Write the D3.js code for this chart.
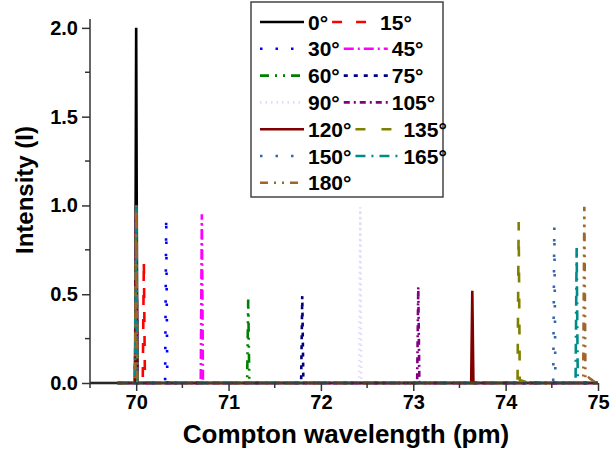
<!DOCTYPE html>
<html>
<head>
<meta charset="utf-8">
<script src="https://cdn.jsdelivr.net/npm/d3@7"></script>
<style>
  body { margin: 0; background: #fff; }
  svg { font-family: Arial, "Liberation Sans", sans-serif; font-weight: bold; }
</style>
</head>
<body>
<div id="chart"></div>
<script>
// scattering angles (legend labels)
var angles = ["0°", "15°", "30°", "45°", "60°", "75°", "90°", "105°", "120°", "135°", "150°", "165°", "180°"];
// shifted (Compton) peak position, pm
var shiftedPos = [70.0, 70.083, 70.325, 70.711, 71.213, 71.798, 72.426, 73.054, 73.639, 74.141, 74.527, 74.769, 74.852];
// shifted peak height
var shiftedHeight = [1.0, 0.69, 0.93, 0.95, 0.47, 0.49, 0.99, 0.54, 0.52, 0.89, 0.88, 0.76, 0.98];
// unshifted peak at 70 pm
var unshiftedPos = 70.0;
var unshiftedHeight = [1.0, 1.0, 1.0, 1.0, 1.0, 1.0, 1.0, 1.0, 1.0, 1.0, 1.0, 1.0, 1.0];
// small low bumps near the baseline (centre, height, half width), 0 = none
var bumpPos = [0, 0, 0, 0, 0, 0, 0, 0, 0, 74.15, 0, 0, 74.9];
var bumpHeight = [0, 0, 0, 0, 0, 0, 0, 0, 0, 0.018, 0, 0, 0.03];
var bumpHalf = [0, 0, 0, 0, 0, 0, 0, 0, 0, 0.1, 0, 0, 0.08];
// where each trace starts
var traceStart = [69.5, 69.8, 69.8, 69.8, 69.8, 69.8, 69.8, 69.8, 69.8, 69.8, 69.8, 69.8, 69.8];
var traceEnd = 75.0;

var colors = ["#000000", "#ff0000", "#0000ff", "#ff00ff", "#008000", "#000080", "#e6d9ff",
              "#800080", "#800000", "#808000", "#3366aa", "#008b8b", "#a0652a"];
var dashes = ["none", "10,14", "2.5,13", "10,4,2,4", "9,6,2,6,2,6", "4,6", "1.5,4",
              "6,4,2,4", "none", "10,16", "2.5,13", "10,6,2,6", "8,6,2,6,2,6"];

var xTicks = [70, 71, 72, 73, 74, 75];
var yTicks = [0.0, 0.5, 1.0, 1.5, 2.0];

var W = 611, H = 452;
var margin = {left: 90, right: 13, top: 19, bottom: 69};
var halfWidth = 0.012; // spike half width

var svg = d3.select("#chart").append("svg")
    .attr("width", W)
    .attr("height", H);

var x = d3.scaleLinear().domain([69.5, 75]).range([margin.left, W - margin.right]);
var y = d3.scaleLinear().domain([0, 2.05]).range([H - margin.bottom, margin.top]);

// build each trace from its spikes and bumps (triangles summed at their vertices)
function traceFor(i) {
    var tri = [[unshiftedPos, unshiftedHeight[i], halfWidth], [shiftedPos[i], shiftedHeight[i], halfWidth]];
    if (bumpHeight[i] > 0) tri.push([bumpPos[i], bumpHeight[i], bumpHalf[i]]);
    var xs = [traceStart[i], traceEnd];
    tri.forEach(function(t) { xs.push(t[0] - t[2], t[0], t[0] + t[2]); });
    xs = xs.filter(function(v) { return v >= traceStart[i] && v <= traceEnd; });
    xs = Array.from(new Set(xs.map(function(v) { return +v.toFixed(4); }))).sort(d3.ascending);
    return xs.map(function(v) {
        var s = 0;
        tri.forEach(function(t) { s += t[1] * Math.max(0, 1 - Math.abs(v - t[0]) / t[2]); });
        return [v, s];
    });
}

var line = d3.line()
    .x(function(d) { return x(d[0]); })
    .y(function(d) { return y(d[1]); });

var traces = svg.append("g").attr("class", "traces");
angles.forEach(function(a, i) {
    traces.append("path")
        .datum(traceFor(i))
        .attr("d", line)
        .attr("fill", "none")
        .attr("stroke", colors[i])
        .attr("stroke-width", 2.6)
        .attr("stroke-dasharray", dashes[i])
        .attr("stroke-linejoin", "miter");
});

// axes
var axisColor = "#333";
var xAxis = d3.axisBottom(x).tickValues(xTicks).tickSize(8).tickPadding(4).tickFormat(d3.format("d"));
var yAxis = d3.axisLeft(y).tickValues(yTicks).tickSize(8).tickPadding(4).tickFormat(d3.format(".1f"));

var gx = svg.append("g")
    .attr("transform", "translate(0," + (H - margin.bottom) + ")")
    .call(xAxis);
gx.selectAll(".tick line").attr("stroke", axisColor).attr("stroke-width", 1.5);
var gy = svg.append("g")
    .attr("transform", "translate(" + margin.left + ",0)")
    .call(yAxis);
gy.selectAll(".tick line").attr("stroke", axisColor).attr("stroke-width", 1.5);

[gx, gy].forEach(function(g) {
    g.select(".domain").remove();
    g.selectAll("text").attr("font-size", 20).attr("font-weight", "bold").attr("fill", "#000")
        .attr("font-family", "Arial, 'Liberation Sans', sans-serif");
});

// minor ticks
var xMinor = d3.range(69.5, 75.01, 0.5).filter(function(v) { return xTicks.indexOf(+v.toFixed(1)) < 0; });
svg.append("g").selectAll("line").data(xMinor).enter().append("line")
    .attr("x1", function(d) { return x(d); }).attr("x2", function(d) { return x(d); })
    .attr("y1", H - margin.bottom).attr("y2", H - margin.bottom + 5)
    .attr("stroke", axisColor).attr("stroke-width", 1.5);
var yMinor = [0.25, 0.75, 1.25, 1.75];
svg.append("g").selectAll("line").data(yMinor).enter().append("line")
    .attr("y1", function(d) { return y(d); }).attr("y2", function(d) { return y(d); })
    .attr("x1", margin.left).attr("x2", margin.left - 5)
    .attr("stroke", axisColor).attr("stroke-width", 1.5);

// axis lines
svg.append("line")
    .attr("x1", margin.left).attr("x2", W - margin.right)
    .attr("y1", H - margin.bottom).attr("y2", H - margin.bottom)
    .attr("stroke", axisColor).attr("stroke-width", 1.5);
svg.append("line")
    .attr("x1", margin.left).attr("x2", margin.left)
    .attr("y1", H - margin.bottom).attr("y2", margin.top)
    .attr("stroke", axisColor).attr("stroke-width", 1.5);

// axis titles
svg.append("text")
    .attr("x", 346).attr("y", 443)
    .attr("text-anchor", "middle")
    .attr("font-size", 26)
    .text("Compton wavelength (pm)");
svg.append("text")
    .attr("transform", "translate(33,190) rotate(-90)")
    .attr("text-anchor", "middle")
    .attr("font-size", 24)
    .text("Intensity (I)");

// legend
var legend = svg.append("g").attr("class", "legend");
legend.append("rect")
    .attr("x", 251).attr("y", 2).attr("width", 192).attr("height", 195)
    .attr("fill", "#fff").attr("stroke", "#444").attr("stroke-width", 1.5);

var rowH = 26.8, row0 = 22, sampleW = 44;
var lastEnd = 0;
angles.forEach(function(a, i) {
    var row = Math.floor(i / 2), col = i % 2;
    var cy = row0 + row * rowH;
    var x0 = col === 0 ? 260 : lastEnd + 4;
    legend.append("line")
        .attr("x1", x0).attr("x2", x0 + sampleW)
        .attr("y1", cy).attr("y2", cy)
        .attr("stroke", colors[i])
        .attr("stroke-width", 2.6)
        .attr("stroke-dasharray", dashes[i]);
    var t = legend.append("text")
        .attr("x", x0 + sampleW + 4).attr("y", cy + 7.5)
        .attr("font-size", 21)
        .text(a);
    lastEnd = x0 + sampleW + 4 + t.node().getComputedTextLength();
});
</script>
</body>
</html>
